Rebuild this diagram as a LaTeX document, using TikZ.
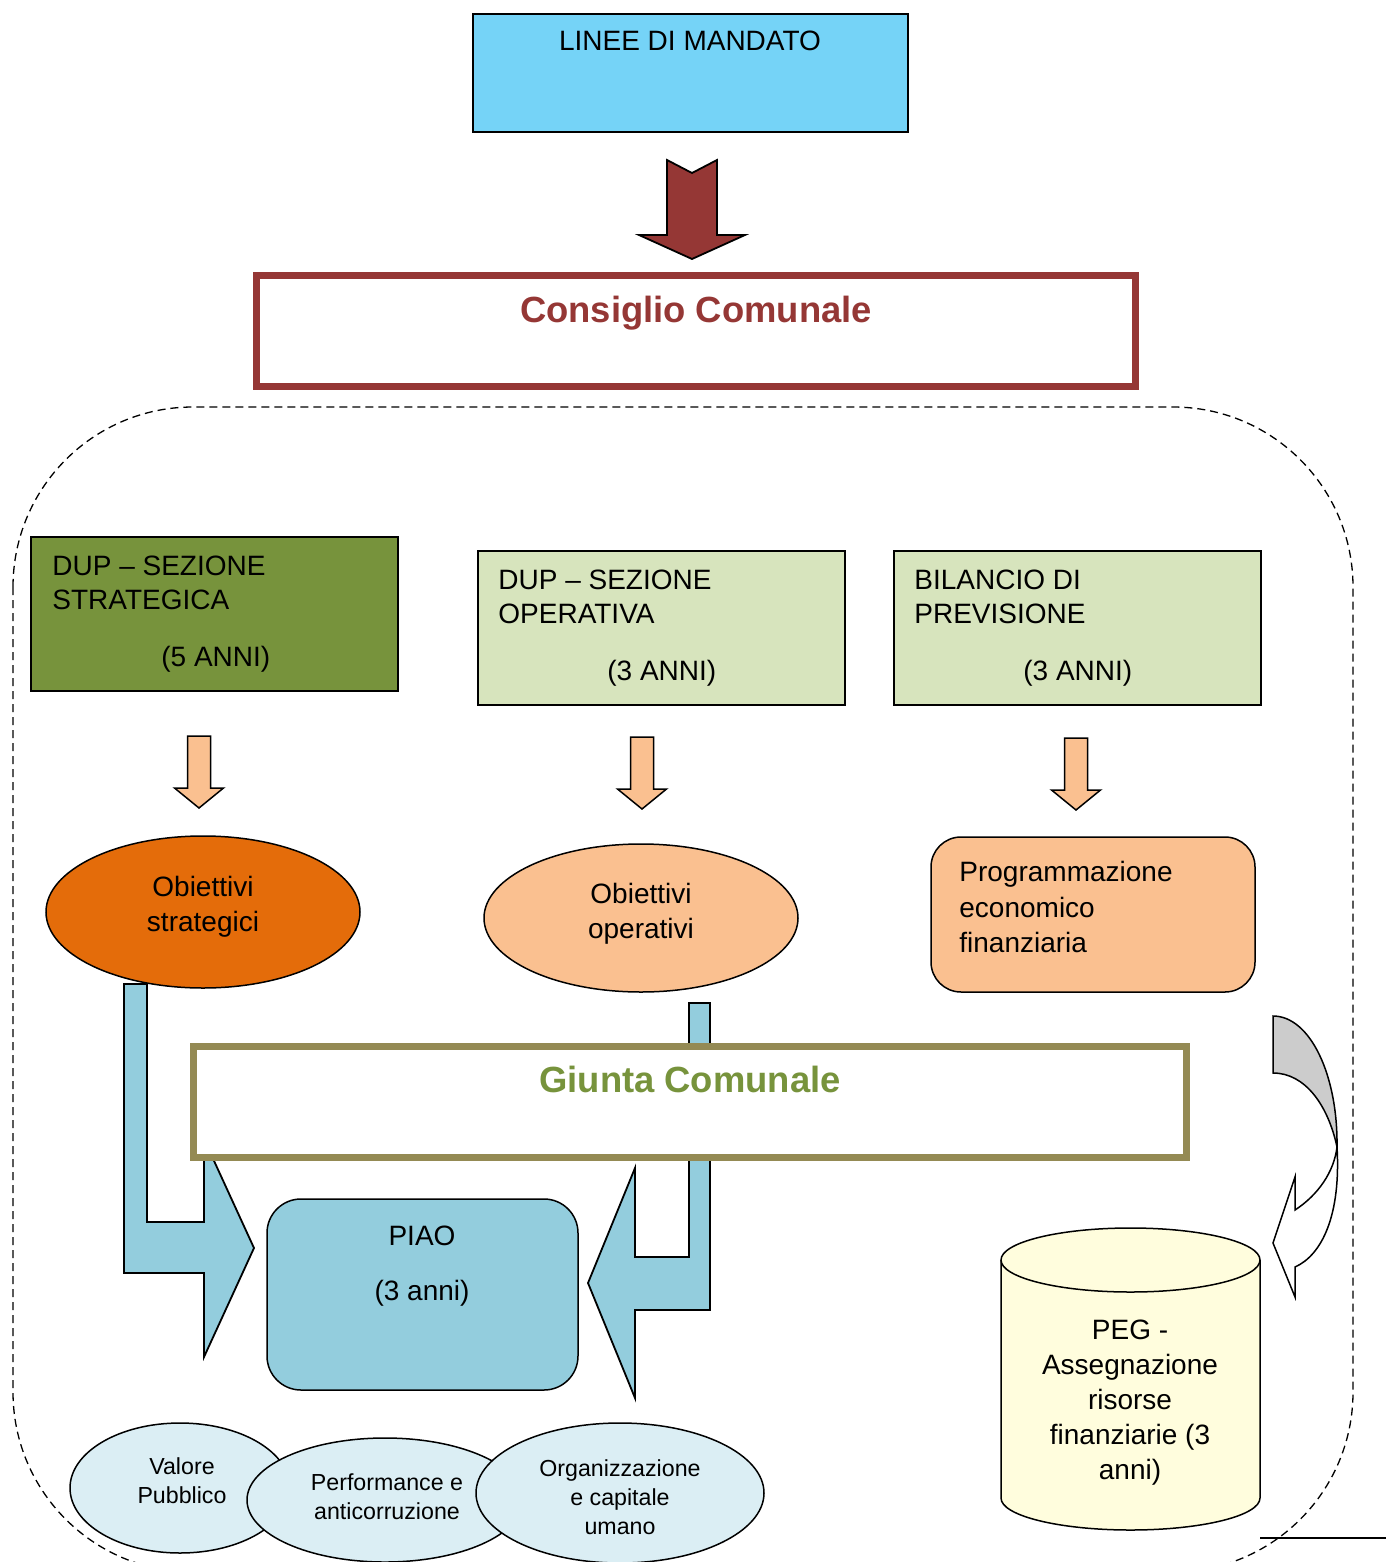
\documentclass[tikz,border=0pt]{standalone}
\usepackage{fontspec}
\setmainfont{Liberation Sans}
\usetikzlibrary{shapes.geometric}

\definecolor{mandatoblue}{RGB}{117,211,247}
\definecolor{darkred}{RGB}{149,55,53}
\definecolor{olivedark}{RGB}{119,147,60}
\definecolor{olivelight}{RGB}{215,228,189}
\definecolor{orangedark}{RGB}{228,108,10}
\definecolor{peach}{RGB}{250,192,144}
\definecolor{giuntaline}{RGB}{148,138,84}
\definecolor{piaoblue}{RGB}{147,205,221}
\definecolor{paleblue}{RGB}{219,238,244}
\definecolor{pegyellow}{RGB}{255,253,221}

\begin{document}
\begin{tikzpicture}[x=0.5pt, y=-0.5pt,
    txt/.style={inner sep=0, font=\fontsize{14}{17}\selectfont},
    smalltxt/.style={inner sep=0, font=\fontsize{11.6}{14}\selectfont},
    boldtxt/.style={inner sep=0, font=\bfseries\fontsize{18.2}{22}\selectfont},
    box/.style={draw, line width=0.75pt, rectangle},
    blockarrow/.style={draw, line width=0.9pt, line join=miter},
    bubble/.style={draw, line width=0.75pt, ellipse}]

\useasboundingbox (0,0) rectangle (1386,1562);

% linee di mandato
\node[box, fill=mandatoblue, minimum width=217.5pt, minimum height=59pt] (mandato) at (690.5,73) {};
\node[txt, anchor=base] (mandatotxt) at (690,51) {LINEE DI MANDATO};

\draw[blockarrow, fill=darkred] (667,160) -- (692,173) -- (717,160) -- (717,235) -- (745,235) -- (692,259) -- (639,235) -- (667,235) -- cycle;

% consiglio comunale
\node[draw=darkred, line width=3.5pt, minimum width=439.5pt, minimum height=55.5pt] (consiglio) at (695.5,330.5) {};
\node[boldtxt, anchor=base, text=darkred] (consigliotxt) at (696,322) {Consiglio Comunale};

% DUP e bilancio
\node[box, fill=olivedark, minimum width=183.5pt, minimum height=77pt] (strategica) at (214.5,614) {};
\node[txt, anchor=base west] (strat1) at (52,575) {DUP -- SEZIONE};
\node[txt, anchor=base west] (strat2) at (52,609) {STRATEGICA};
\node[txt, anchor=base west] (strat3) at (161,666) {(5 ANNI)};

\node[box, fill=olivelight, minimum width=183.5pt, minimum height=77pt] (operativa) at (661.5,628) {};
\node[txt, anchor=base west] (oper1) at (498,589) {DUP -- SEZIONE};
\node[txt, anchor=base west] (oper2) at (498,623) {OPERATIVA};
\node[txt, anchor=base west] (oper3) at (607,680) {(3 ANNI)};

\node[box, fill=olivelight, minimum width=183.5pt, minimum height=77pt] (bilancio) at (1077.5,628) {};
\node[txt, anchor=base west] (bil1) at (914,589) {BILANCIO DI};
\node[txt, anchor=base west] (bil2) at (914,623) {PREVISIONE};
\node[txt, anchor=base west] (bil3) at (1023,680) {(3 ANNI)};

\foreach \cx/\ty in {199/736, 642/737, 1076/738}
  \draw[blockarrow, line width=0.75pt, fill=peach] (\cx-11.5,\ty) -- (\cx+11.5,\ty) -- (\cx+11.5,\ty+52) -- (\cx+24.5,\ty+52)
    -- (\cx,\ty+72) -- (\cx-24.5,\ty+52) -- (\cx-11.5,\ty+52) -- cycle;

% frecce verso il PIAO
\draw[blockarrow, fill=piaoblue] (124,984) -- (147,984) -- (147,1222) -- (204,1222) -- (204,1139) -- (254,1248)
  -- (204,1357) -- (204,1273) -- (124,1273) -- cycle;
\draw[blockarrow, fill=piaoblue] (689,1003) -- (710,1003) -- (710,1310) -- (635,1310) -- (635,1398) -- (588,1283)
  -- (635,1168) -- (635,1257) -- (689,1257) -- cycle;

% obiettivi
\node[bubble, fill=orangedark, minimum width=157pt, minimum height=76pt] (obstrat) at (203,912) {};
\node[txt, anchor=base] (obstrat1) at (203,896) {Obiettivi};
\node[txt, anchor=base] (obstrat2) at (203,931) {strategici};

\node[bubble, fill=peach, minimum width=157pt, minimum height=74pt] (oboper) at (641,918) {};
\node[txt, anchor=base] (oboper1) at (641,903) {Obiettivi};
\node[txt, anchor=base] (oboper2) at (641,938) {operativi};

\node[box, fill=peach, rounded corners=15pt, minimum width=162pt, minimum height=77.5pt] (progr) at (1093,914.5) {};
\node[txt, anchor=base west] (progr1) at (959,881) {Programmazione};
\node[txt, anchor=base west] (progr2) at (959,917) {economico};
\node[txt, anchor=base west] (progr3) at (959,952) {finanziaria};

% giunta comunale
\node[draw=giuntaline, fill=white, line width=3.5pt, minimum width=496.5pt, minimum height=55.25pt] (giunta) at (689.5,1101.75) {};
\node[boldtxt, anchor=base, text=olivedark] (giuntatxt) at (690,1092) {Giunta Comunale};

% PIAO
\node[box, fill=piaoblue, rounded corners=17pt, minimum width=155.5pt, minimum height=95.5pt] (piao) at (422.5,1294.5) {};
\node[txt, anchor=base] (piao1) at (422,1245) {PIAO};
\node[txt, anchor=base] (piao2) at (422,1300) {(3 anni)};

% freccia curva verso il PEG
\draw[line width=0.75pt, fill=black!20] (1273,1016) .. controls (1310,1016) and (1338,1075) .. (1337,1147)
  .. controls (1328,1105) and (1305,1073) .. (1273,1073) -- cycle;
\draw[line width=0.75pt, fill=white] (1337,1147) .. controls (1341,1215) and (1322,1255) .. (1295,1267)
  -- (1295,1297) -- (1273,1243) -- (1295,1177) -- (1295,1210) .. controls (1318,1195) and (1334,1172) .. (1337,1147) -- cycle;

% PEG
\draw[line width=0.75pt, fill=pegyellow] (1001,1260) -- (1001,1498) arc[start angle=180, end angle=360, x radius=64.75pt, y radius=16pt]
  -- (1260,1260) arc[start angle=0, end angle=180, x radius=64.75pt, y radius=16pt] -- cycle;
\draw[line width=0.75pt] (1001,1260) arc[start angle=180, end angle=360, x radius=64.75pt, y radius=16pt];
\node[txt, anchor=base] (peg1) at (1130,1339) {PEG -};
\node[txt, anchor=base] (peg2) at (1130,1374) {Assegnazione};
\node[txt, anchor=base] (peg3) at (1130,1409) {risorse};
\node[txt, anchor=base] (peg4) at (1130,1444) {finanziarie (3};
\node[txt, anchor=base] (peg5) at (1130,1479) {anni)};

% sezioni del PIAO
\node[bubble, fill=paleblue, minimum width=110pt, minimum height=65pt] (valore) at (180,1488) {};
\node[smalltxt, anchor=base] (valore1) at (182,1474) {Valore};
\node[smalltxt, anchor=base] (valore2) at (182,1503) {Pubblico};

\node[bubble, fill=paleblue, minimum width=138pt, minimum height=62pt] (perf) at (385,1500) {};
\node[smalltxt, anchor=base] (perf1) at (387,1490) {Performance e};
\node[smalltxt, anchor=base] (perf2) at (387,1519) {anticorruzione};

\node[bubble, fill=paleblue, minimum width=144pt, minimum height=70pt] (organ) at (620,1493) {};
\node[smalltxt, anchor=base] (organ1) at (620,1476) {Organizzazione};
\node[smalltxt, anchor=base] (organ2) at (620,1505) {e capitale};
\node[smalltxt, anchor=base] (organ3) at (620,1534) {umano};

% area giunta
\draw[dash pattern=on 4pt off 2.5pt, line width=0.65pt, rounded corners=90pt] (13,407) rectangle (1353,1572);
\draw[line width=0.6pt] (1260,1538) -- (1386,1538);

\end{tikzpicture}
\end{document}
